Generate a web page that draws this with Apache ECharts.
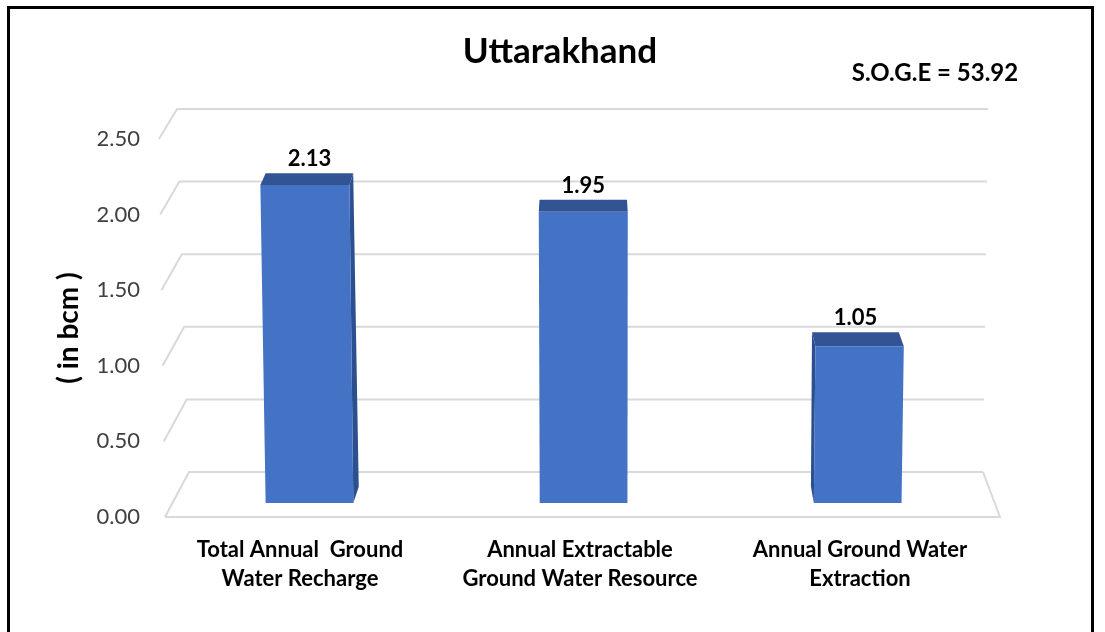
<!DOCTYPE html>
<html>
<head>
<meta charset="utf-8">
<title>Uttarakhand</title>
<script src="https://cdn.jsdelivr.net/npm/echarts@6/dist/echarts.min.js"></script>
<style>
  html, body { margin: 0; padding: 0; background: #fff; }
  #chart { width: 1105px; height: 632px; }
</style>
</head>
<body>
<div id="chart"></div>
<script>
// ---- data ----
const categories = [
  'Total Annual  Ground\nWater Recharge',
  'Annual Extractable\nGround Water Resource',
  'Annual Ground Water\nExtraction'
];
const values = [2.13, 1.95, 1.05];
const yTicks = [0, 0.5, 1, 1.5, 2, 2.5];
const chartTitle = 'Uttarakhand';
const sogeNote = 'S.O.G.E = 53.92';
const yAxisTitle = '( in bcm )';

// ---- 3D box geometry (screen corners of the back wall and the front plane) ----
const BACK = { tl: [177, 109], tr: [988, 109], bl: [189, 472], br: [983, 472] };
const FRONT = { tl: [159, 139], tr: [1008, 139], bl: [165, 517], br: [1000, 517] };
const BAR_Z0 = 0.33, BAR_Z1 = 0.69;   // depth of bar back / front faces
const BAR_FRACTION = 0.32;            // bar width relative to its category band

const FONT = 'Lato, "Open Sans", sans-serif';

function lerp(a, b, k) { return [a[0] + (b[0] - a[0]) * k, a[1] + (b[1] - a[1]) * k]; }
function bilerp(P, s, t) { return lerp(lerp(P.bl, P.br, s), lerp(P.tl, P.tr, s), t); }
// s: 0..1 across the plot, t: 0..1 up the value axis, z: 0 back .. 1 front
function project(s, t, z) {
  const b = bilerp(BACK, s, t), f = bilerp(FRONT, s, t);
  return lerp(b, f, z);
}
// convert a pixel on the flat reference grid into (s, t)
function toUnit(cs, pt) {
  return [(pt[0] - cs.x) / cs.width, (cs.y + cs.height - pt[1]) / cs.height];
}

function renderWalls(params, api) {
  const cs = params.coordSys;
  const v = api.value(1);
  const t = toUnit(cs, api.coord([0, v]))[1];
  const lineStyle = { stroke: '#d9d9d9', lineWidth: 2, fill: null };
  const b0 = project(0, t, 0), b1 = project(1, t, 0), f0 = project(0, t, 1);
  const children = [
    { type: 'polyline', shape: { points: [f0, b0, b1] }, style: lineStyle }
  ];
  if (v === 0) {
    children.push({
      type: 'polyline',
      shape: { points: [f0, project(1, t, 1), b1] },
      style: lineStyle
    });
  }
  return { type: 'group', children: children };
}

function renderBar(params, api) {
  const cs = params.coordSys;
  const idx = api.value(0), val = api.value(1);
  const center = toUnit(cs, api.coord([idx, 0]))[0];
  const band = api.size([1, 0])[0] / cs.width;
  const half = band * BAR_FRACTION / 2;
  const sL = center - half, sR = center + half;
  const tTop = toUnit(cs, api.coord([idx, val]))[1];
  const tBot = toUnit(cs, api.coord([idx, 0]))[1];

  const fLB = project(sL, tBot, BAR_Z1), fRB = project(sR, tBot, BAR_Z1);
  const fLT = project(sL, tTop, BAR_Z1), fRT = project(sR, tTop, BAR_Z1);
  const bLB = project(sL, tBot, BAR_Z0), bRB = project(sR, tBot, BAR_Z0);
  const bLT = project(sL, tTop, BAR_Z0), bRT = project(sR, tTop, BAR_Z0);

  const children = [];
  if (bRT[0] > fRT[0] + 0.5) {
    children.push({ type: 'polygon', shape: { points: [fRB, fRT, bRT, bRB] },
      style: { fill: '#2c4f8f' } });
  }
  if (bLT[0] < fLT[0] - 0.5) {
    children.push({ type: 'polygon', shape: { points: [fLB, fLT, bLT, bLB] },
      style: { fill: '#2c4f8f' } });
  }
  children.push({ type: 'polygon', shape: { points: [fLT, fRT, bRT, bLT] },
    style: { fill: '#335494' } });
  children.push({ type: 'polygon', shape: { points: [fLB, fRB, fRT, fLT] },
    style: { fill: '#4472c4' } });
  children.push({
    type: 'text',
    x: (bLT[0] + bRT[0]) / 2,
    y: bLT[1] - 3,
    style: {
      text: val.toFixed(2),
      align: 'center',
      verticalAlign: 'bottom',
      font: 'bold 22px ' + FONT,
      fill: '#000'
    }
  });
  return { type: 'group', children: children };
}

const chart = echarts.init(document.getElementById('chart'));
chart.setOption({
  animation: false,
  backgroundColor: '#fff',
  title: [
    { text: chartTitle, left: 555, top: 29, textAlign: 'center',
      textStyle: { fontFamily: FONT, fontSize: 35, fontWeight: 'bold', color: '#000' } },
    { text: sogeNote, left: 930, top: 56, textAlign: 'center',
      textStyle: { fontFamily: FONT, fontSize: 24, fontWeight: 'bold', color: '#000' } }
  ],
  graphic: [
    { type: 'rect', shape: { x: 8.5, y: 7.5, width: 1084, height: 700 },
      style: { fill: null, stroke: '#000', lineWidth: 3 }, z: 100 }
  ],
  grid: [
    // flat reference frame of the back wall
    { left: 177, right: 1105 - 988, top: 109, bottom: 632 - 472 },
    // front plane, carries the visible axis labels
    { left: 160, right: 1105 - 1000, top: 139, bottom: 632 - 517 }
  ],
  xAxis: [
    { type: 'category', gridIndex: 0, data: categories, show: false },
    { type: 'category', gridIndex: 1, data: categories,
      axisLine: { show: false }, axisTick: { show: false },
      axisLabel: { interval: 0, margin: 18, fontFamily: FONT, fontSize: 22,
        fontWeight: 'bold', color: '#000', lineHeight: 29 } }
  ],
  yAxis: [
    { type: 'value', gridIndex: 0, min: 0, max: 2.5, interval: 0.5, show: false },
    { type: 'value', gridIndex: 1, min: 0, max: 2.5, interval: 0.5,
      axisLine: { show: false }, axisTick: { show: false }, splitLine: { show: false },
      axisLabel: { margin: 20, fontFamily: FONT, fontSize: 22, color: '#404040',
        formatter: v => v.toFixed(2) },
      name: yAxisTitle, nameLocation: 'middle', nameRotate: 90, nameGap: 77,
      nameTextStyle: { fontFamily: FONT, fontSize: 28, fontWeight: 'bold', color: '#000' } }
  ],
  series: [
    { type: 'custom', name: 'walls', xAxisIndex: 0, yAxisIndex: 0, z: 1, clip: false,
      silent: true, renderItem: renderWalls,
      data: yTicks.map(v => [0, v]) },
    { type: 'custom', name: 'bars', xAxisIndex: 0, yAxisIndex: 0, z: 2, clip: false,
      renderItem: renderBar,
      data: values.map((v, i) => [i, v]) }
  ]
});
</script>
</body>
</html>
